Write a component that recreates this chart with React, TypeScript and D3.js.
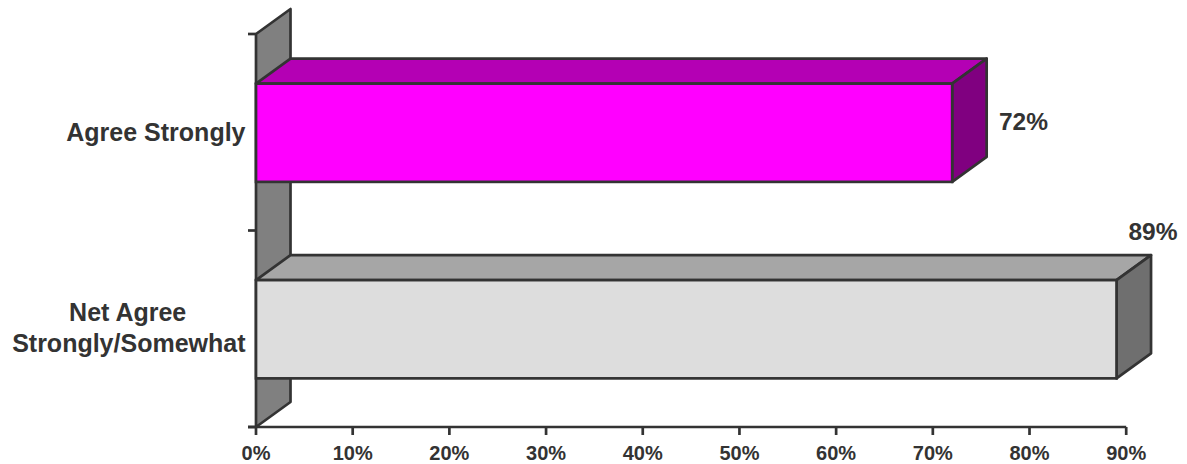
import React from "react";
import * as d3 from "d3";

const categories = ["Agree Strongly", "Net Agree Strongly/Somewhat"];
const categoryLines = [["Agree Strongly"], ["Net Agree", "Strongly/Somewhat"]];
const values = [72, 89];
const valueLabels = ["72%", "89%"];
const front = ["#ff00ff", "#dddddd"];
const top = ["#b400b4", "#a6a6a6"];
const side = ["#800080", "#6f6f6f"];
const xTicks = [0, 10, 20, 30, 40, 50, 60, 70, 80, 90];

const W = 1187, H = 464;
const dx = 34.5, dy = -25;
const ink = "#333333";
const font = "'Liberation Sans', Arial, sans-serif";

export default function App() {
  const x = d3.scaleLinear().domain([0, 90]).range([256, 1126.2]);
  const y = d3.scaleBand().domain(categories).range([34.5, 427.5]).paddingInner(0.5).paddingOuter(0.25);
  const x0 = x(0);
  const poly = (p: number[][]) => p.map((q) => q.join(",")).join(" ");
  const sw = 2.7;
  const yTickPos = [34, 230.5, 427];
  return (
    <svg width={W} height={H} style={{ position: "absolute", left: 0, top: 0 }}>
      <rect width={W} height={H} fill="#fff" />
      <polygon points={poly([[x0, 34], [x0 + dx, 34 + dy], [x0 + dx, 427 + dy], [x0, 427]])} fill="#808080" stroke={ink} strokeWidth={sw} strokeLinejoin="round" />
      {yTickPos.map((t) => (
        <line key={t} x1={x0 - 8} x2={x0} y1={t} y2={t} stroke={ink} strokeWidth={sw} />
      ))}
      <line x1={x0 - 8} x2={x(90)} y1={427} y2={427} stroke={ink} strokeWidth={sw} />
      {xTicks.map((t) => (
        <g key={t}>
          <line x1={x(t)} x2={x(t)} y1={427} y2={435} stroke={ink} strokeWidth={sw} />
          <text x={x(t)} y={460} textAnchor="middle" fontFamily={font} fontWeight="bold" fontSize={20} fill={ink}>{t}%</text>
        </g>
      ))}
      {categories.map((c, i) => {
        const b = y(c)!;
        const h = y.bandwidth();
        const xe = x(values[i]);
        return (
          <g key={c}>
            <polygon points={poly([[x0, b], [x0 + dx, b + dy], [xe + dx, b + dy], [xe, b]])} fill={top[i]} stroke={ink} strokeWidth={sw} strokeLinejoin="round" />
            <polygon points={poly([[xe, b], [xe + dx, b + dy], [xe + dx, b + h + dy], [xe, b + h]])} fill={side[i]} stroke={ink} strokeWidth={sw} strokeLinejoin="round" />
            <rect x={x0} y={b} width={xe - x0} height={h} fill={front[i]} stroke={ink} strokeWidth={sw} />
            {categoryLines[i].map((l, k) => (
              <text key={l} x={i === 0 || k === 1 ? 245.5 : 127.7} y={i === 0 ? b + h / 2 + 8 : b + h / 2 - 8.5 + k * 31.5} textAnchor={i === 0 || k === 1 ? "end" : "middle"} fontFamily={font} fontWeight="bold" fontSize={25} fill={ink}>{l}</text>
            ))}
          </g>
        );
      })}
      <text x={1023.5} y={130} textAnchor="middle" fontFamily={font} fontWeight="bold" fontSize={24.5} fill={ink}>{valueLabels[0]}</text>
      <text x={1153} y={240} textAnchor="middle" fontFamily={font} fontWeight="bold" fontSize={24.5} fill={ink}>{valueLabels[1]}</text>
    </svg>
  );
}
